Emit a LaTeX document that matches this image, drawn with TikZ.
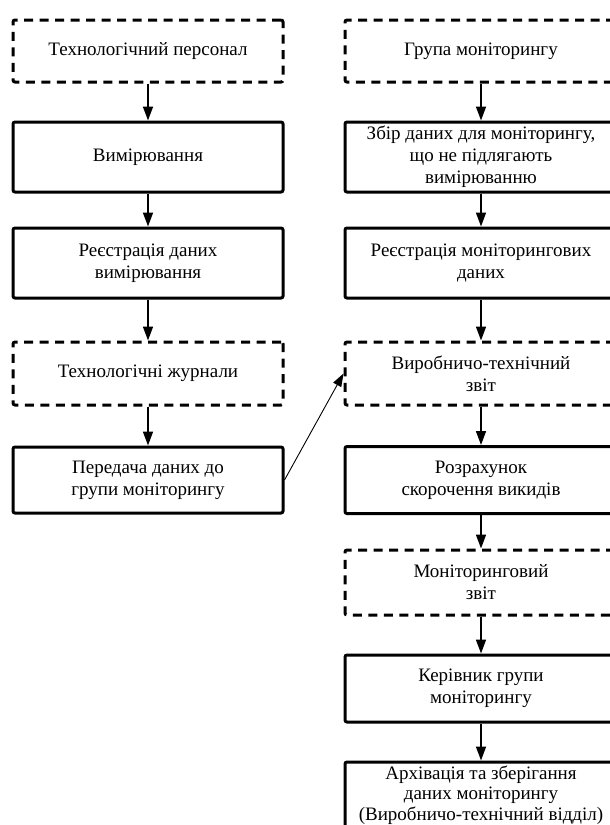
\documentclass[tikz,border=0pt]{standalone}
\usepackage{fontspec}
\setmainfont{Liberation Serif}
\usetikzlibrary{arrows.meta}
\begin{document}
\begin{tikzpicture}[x=1pt,y=-1pt,
  box/.style={draw, line width=3pt, rounded corners=2pt, minimum width=270pt,
    align=center, font=\fontsize{19}{22}\selectfont, inner sep=0pt},
  dbox/.style={box, dash pattern=on 9pt off 6.5pt},
  arr/.style={-{Triangle[length=14pt,width=10pt]}, line width=1.6pt},
  thinarr/.style={-{Triangle[length=13pt,width=9pt]}, line width=0.9pt}]
\useasboundingbox (0,0) rectangle (610,825);
\clip (0,0) rectangle (610,825);
% left column
\node[dbox, minimum height=62pt] (L1) at (148,51) {Технологічний персонал};
\node[box, minimum height=70pt] (L2) at (148,157) {Вимірювання};
\node[box, minimum height=70pt] (L3) at (148,263) {Реєстрація даних\\вимірювання};
\node[dbox, minimum height=63pt] (L4) at (148,373.5) {Технологічні журнали};
\node[box, minimum height=66pt] (L5) at (148,480) {Передача даних до\\групи моніторингу};
% right column
\node[dbox, minimum width=272pt, minimum height=62pt] (R1) at (481,51) {Група моніторингу};
\node[box, minimum width=272pt, minimum height=70pt] (R2) at (481,157) {Збір даних для моніторингу,\\що не підлягають\\вимірюванню};
\node[box, minimum width=272pt, minimum height=70pt] (R3) at (481,263) {Реєстрація моніторингових\\даних};
\node[dbox, minimum width=272pt, minimum height=63pt] (R4) at (481,373.5) {Виробничо-технічний\\звіт};
\node[box, minimum width=272pt, minimum height=67pt] (R5) at (481,480) {Розрахунок\\скорочення викидів};
\node[dbox, minimum width=272pt, minimum height=65pt] (R6) at (481,582.5) {Моніторинговий\\звіт};
\node[box, minimum width=272pt, minimum height=67pt] (R7) at (481,688.5) {Керівник групи\\моніторингу};
\node[box, minimum width=272pt, minimum height=66pt, font=\fontsize{19}{20.5}\selectfont] (R8) at (481,795) {Архівація та зберігання\\даних моніторингу\\(Виробничо-технічний відділ)};
% connectors
\draw[arr] (L1) -- (L2);
\draw[arr] (L2) -- (L3);
\draw[arr] (L3) -- (L4);
\draw[arr] (L4) -- (L5);
\draw[arr] (R1) -- (R2);
\draw[arr] (R2) -- (R3);
\draw[arr] (R3) -- (R4);
\draw[arr] (R4) -- (R5);
\draw[arr] (R5) -- (R6);
\draw[arr] (R6) -- (R7);
\draw[arr] (R7) -- (R8);
\draw[thinarr] (L5.east) -- (R4.west);
\end{tikzpicture}
\end{document}
